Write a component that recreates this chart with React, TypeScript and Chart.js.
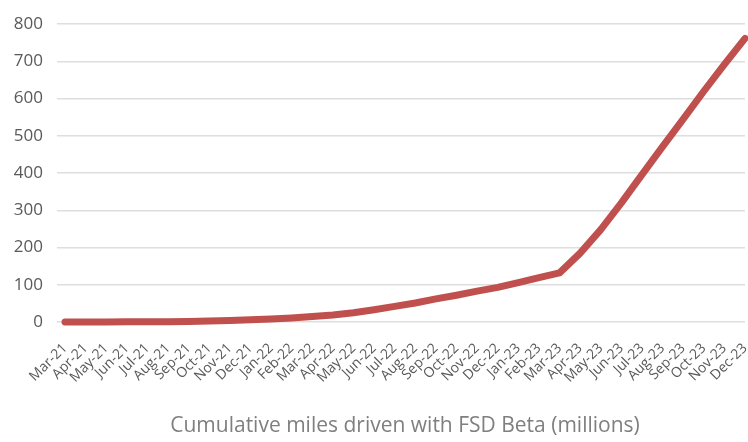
import React, { useEffect, useRef } from "react";
import { Chart, registerables } from "chart.js";

Chart.register(...registerables);

const months: string[] = [
  "Mar-21", "Apr-21", "May-21", "Jun-21", "Jul-21", "Aug-21", "Sep-21", "Oct-21", "Nov-21", "Dec-21",
  "Jan-22", "Feb-22", "Mar-22", "Apr-22", "May-22", "Jun-22", "Jul-22", "Aug-22", "Sep-22", "Oct-22",
  "Nov-22", "Dec-22", "Jan-23", "Feb-23", "Mar-23", "Apr-23", "May-23", "Jun-23", "Jul-23", "Aug-23",
  "Sep-23", "Oct-23", "Nov-23", "Dec-23",
];

const cumulativeMiles: number[] = [
  0.1, 0.2, 0.3, 0.5, 0.8, 1, 1.5, 2.5, 4, 6,
  8, 11, 15, 19, 25, 33, 42, 51, 62, 72,
  83, 93, 106, 119, 132, 185, 248, 320, 396, 471,
  545, 620, 692, 762,
];

const yTicks: number[] = [0, 100, 200, 300, 400, 500, 600, 700, 800];

const axisTitle = "Cumulative miles driven with FSD Beta (millions)";

export default function App() {
  const canvasRef = useRef<HTMLCanvasElement | null>(null);

  useEffect(() => {
    if (!canvasRef.current) return;
    const chart = new Chart(canvasRef.current, {
      type: "line",
      data: {
        labels: months,
        datasets: [
          {
            data: cumulativeMiles,
            borderColor: "#c0504d",
            backgroundColor: "#c0504d",
            borderWidth: 7,
            borderCapStyle: "round",
            borderJoinStyle: "round",
            pointRadius: 0,
            tension: 0,
            fill: false,
            clip: false,
          },
        ],
      },
      options: {
        animation: false,
        responsive: false,
        maintainAspectRatio: false,
        layout: { padding: { top: 18, right: 3, left: 0, bottom: 3 } },
        plugins: { legend: { display: false }, tooltip: { enabled: false } },
        scales: {
          x: {
            offset: false,
            grid: { display: false },
            border: { display: false },
            ticks: {
              minRotation: 45,
              maxRotation: 45,
              autoSkip: false,
              padding: 10,
              color: "#595959",
              font: { family: "'Open Sans', sans-serif", size: 14 },
            },
            title: {
              display: true,
              text: axisTitle,
              color: "#7f7f7f",
              font: { family: "'Open Sans', sans-serif", size: 21 },
              padding: { top: 0, bottom: 0 },
            },
            afterFit: (s: any) => {
              s.paddingLeft = 0;
              s.paddingRight = 0;
              s.height = 117;
            },
          },
          y: {
            min: 0,
            max: 800,
            afterBuildTicks: (s: any) => {
              s.ticks = yTicks.map((v) => ({ value: v }));
            },
            grid: {
              color: "#dedede",
              lineWidth: 1.5,
              drawTicks: true,
              tickLength: 8,
            },
            border: { display: false },
            ticks: {
              padding: 14,
              color: "#595959",
              font: { family: "'Open Sans', sans-serif", size: 17 },
            },
            afterFit: (s: any) => {
              s.width = 65;
            },
          },
        },
      },
    });
    return () => chart.destroy();
  }, []);

  return (
    <div style={{ position: "fixed", left: 0, top: 0, width: 748, height: 442, background: "#fff" }}>
      <canvas ref={canvasRef} width={748} height={442} style={{ width: 748, height: 442 }} />
    </div>
  );
}
